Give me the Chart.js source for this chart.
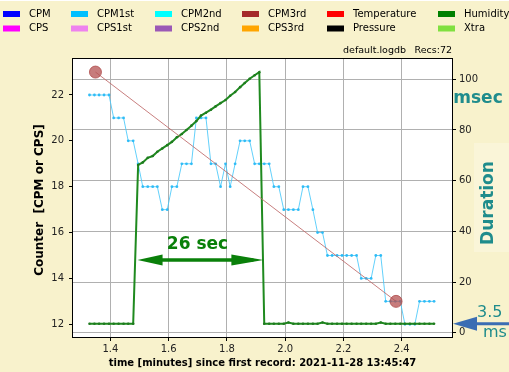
<!DOCTYPE html>
<html>
<head>
<meta charset="utf-8">
<script src="https://cdn.jsdelivr.net/npm/chart.js@4.4.0/dist/chart.umd.min.js"></script>
<style>
  html, body { margin: 0; padding: 0; background: #f8f2cc; }
  canvas { display: block; }
</style>
</head>
<body>
<canvas id="chart" width="509" height="372"></canvas>
<script>
// record times [minutes since first record]
const times = [
  1.328, 1.345, 1.361, 1.378, 1.395, 1.411, 1.428, 1.445, 1.461, 1.478,
  1.495, 1.511, 1.528, 1.545, 1.561, 1.578, 1.595, 1.611, 1.628, 1.645,
  1.661, 1.678, 1.695, 1.711, 1.728, 1.745, 1.761, 1.778, 1.795, 1.811,
  1.828, 1.845, 1.861, 1.878, 1.895, 1.911, 1.928, 1.945, 1.961, 1.978,
  1.995, 2.011, 2.028, 2.045, 2.061, 2.078, 2.095, 2.111, 2.128, 2.145,
  2.161, 2.178, 2.195, 2.211, 2.228, 2.245, 2.261, 2.278, 2.295, 2.311,
  2.328, 2.345, 2.361, 2.378, 2.395, 2.411, 2.428, 2.445, 2.461, 2.478,
  2.495, 2.511
];
// CPM1st counts (left axis)
const cpm1st = [
  22, 22, 22, 22, 22, 21, 21, 21, 20, 20,
  19, 18, 18, 18, 18, 17, 17, 18, 18, 19,
  19, 19, 21, 21, 21, 19, 19, 18, 19, 18,
  19, 20, 20, 20, 19, 19, 19, 19, 18, 18,
  17, 17, 17, 17, 18, 18, 17, 16, 16, 15,
  15, 15, 15, 15, 15, 15, 14, 14, 14, 15,
  15, 13, 13, 13, 13, 12, 12, 12, 13, 13,
  13, 13
];
// Humidity column, used as duration [msec] (right axis)
const duration = [
  3.5, 3.5, 3.5, 3.5, 3.5, 3.5, 3.5, 3.5, 3.5, 3.5,
  66.2, 67.2, 69.0, 69.7, 71.4, 72.7, 74.0, 75.3, 77.1, 78.4,
  80.0, 81.7, 83.5, 85.7, 86.8, 88.0, 89.3, 90.6, 91.8, 93.5,
  95.0, 96.9, 98.5, 100.2, 101.6, 102.8, 3.5, 3.5, 3.5, 3.5,
  3.5, 4.0, 3.5, 3.5, 3.5, 3.5, 3.5, 3.5, 4.0, 3.5,
  3.5, 3.5, 3.5, 3.5, 3.5, 3.5, 3.5, 3.5, 3.5, 3.5,
  4.0, 3.5, 3.5, 3.5, 3.5, 3.5, 3.5, 3.5, 3.5, 3.5,
  3.5, 3.5
];
// fitted trend, two ends
const fitTimes = [1.3485, 2.3805];
const fitValues = [23.0, 13.0];

const xTicks = [1.4, 1.6, 1.8, 2.0, 2.2, 2.4];
const yTicks = [12, 14, 16, 18, 20, 22];
const y1Ticks = [0, 20, 40, 60, 80, 100];

const legendNames = ['CPM', 'CPS', 'CPM1st', 'CPS1st', 'CPM2nd', 'CPS2nd',
  'CPM3rd', 'CPS3rd', 'Temperature', 'Pressure', 'Humidity', 'Xtra'];
const legendColors = ['#0000ff', '#ff00ff', '#00bfff', '#ee82ee', '#00ffff', '#9b59b6',
  '#a52a2a', '#ffa500', '#ff0000', '#000000', '#008000', '#80e040'];

// annotation anchors (data units)
const gapStart = 1.493, gapEnd = 1.925, gapLevel = 14.8;
const gapLabel = '26 sec';
const baseDuration = 3.5;

const BG = '#f8f2cc';
const TEAL = '#1f8c8c';
const F = 'DejaVu Sans';

const toPts = (xs, ys) => xs.map((x, i) => ({ x: x, y: ys[i] }));

function head(ctx, tipX, y, baseX, half) {
  ctx.beginPath();
  ctx.moveTo(tipX, y);
  ctx.lineTo(baseX, y - half);
  ctx.lineTo(baseX, y + half);
  ctx.closePath();
  ctx.fill();
}

const decor = {
  id: 'decor',
  beforeDraw(chart) {
    const { ctx, chartArea: a } = chart;
    ctx.save();
    ctx.fillStyle = BG;
    ctx.fillRect(0, 0, chart.width, chart.height);
    ctx.fillStyle = '#ffffff';
    ctx.fillRect(0, 0, chart.width, 1);
    ctx.fillRect(a.left, a.top, a.right - a.left, a.bottom - a.top);
    ctx.restore();
  },
  afterDatasetsDraw(chart) {
    const { ctx } = chart;
    const x = chart.scales.x, y = chart.scales.y;
    const x0 = x.getPixelForValue(gapStart), x1 = x.getPixelForValue(gapEnd);
    const yy = y.getPixelForValue(gapLevel);
    ctx.save();
    ctx.strokeStyle = '#0a800a';
    ctx.fillStyle = '#0a800a';
    ctx.lineWidth = 3.5;
    ctx.beginPath();
    ctx.moveTo(x0 + 10, yy);
    ctx.lineTo(x1 - 10, yy);
    ctx.stroke();
    head(ctx, x0, yy, x0 + 25, 5.5);
    head(ctx, x1, yy, x1 - 32, 5.5);
    ctx.font = 'bold 17px "' + F + '"';
    ctx.textAlign = 'center';
    ctx.textBaseline = 'middle';
    ctx.fillText(gapLabel, (x0 + x1) / 2 - 3, yy - 16);
    ctx.restore();
  },
  afterDraw(chart) {
    const { ctx, chartArea: a } = chart;
    ctx.save();
    // frame
    ctx.strokeStyle = '#000';
    ctx.lineWidth = 1;
    ctx.strokeRect(a.left - 0.5, a.top - 0.5, a.right - a.left + 1, a.bottom - a.top + 1);

    // legend, column-major like the original
    const colBox = [3, 71, 155, 242, 327, 438];
    const rowY = [14, 28.5];
    ctx.font = '10px "' + F + '"';
    ctx.textBaseline = 'middle';
    ctx.textAlign = 'left';
    legendNames.forEach((name, i) => {
      const c = Math.floor(i / 2), r = i % 2;
      ctx.fillStyle = legendColors[i];
      ctx.fillRect(colBox[c], rowY[r] - 3, 17, 6);
      ctx.fillStyle = '#000';
      ctx.fillText(name, colBox[c] + 26, rowY[r]);
    });

    // file info
    ctx.font = '9.5px "' + F + '"';
    ctx.fillText('default.logdb', 343, 50.5);
    ctx.textAlign = 'right';
    ctx.fillText('Recs:72', 452, 50.5);

    // axis titles
    ctx.fillStyle = '#000';
    ctx.textAlign = 'center';
    ctx.font = 'bold 10px "' + F + '"';
    ctx.fillText('time [minutes] since first record: 2021-11-28 13:45:47', (a.left + a.right) / 2, 363.5);
    ctx.save();
    ctx.translate(40, 200);
    ctx.rotate(-Math.PI / 2);
    ctx.font = 'bold 12px "' + F + '"';
    ctx.fillText('Counter  [CPM or CPS]', 0, 0);
    ctx.restore();

    // right side labels
    ctx.fillStyle = TEAL;
    ctx.font = 'bold 17px "' + F + '"';
    ctx.fillText('msec', 478, 99);
    ctx.fillStyle = '#faf5d8';
    ctx.fillRect(474, 143, 35, 109);
    ctx.fillStyle = TEAL;
    ctx.save();
    ctx.translate(489, 203);
    ctx.rotate(-Math.PI / 2);
    ctx.fillText('Duration', 0, 0);
    ctx.restore();

    // baseline duration marker
    const yb = chart.scales.y1.getPixelForValue(baseDuration);
    ctx.fillStyle = '#3b6db3';
    ctx.strokeStyle = '#3b6db3';
    ctx.lineWidth = 3;
    ctx.beginPath();
    ctx.moveTo(a.right + 15, yb);
    ctx.lineTo(chart.width, yb);
    ctx.stroke();
    head(ctx, a.right + 1, yb, a.right + 25, 7);
    ctx.fillStyle = TEAL;
    ctx.font = '16px "' + F + '"';
    ctx.textAlign = 'left';
    ctx.fillText(baseDuration.toFixed(1), 477, yb - 11);
    ctx.fillText('ms', 483, yb + 9);
    ctx.restore();
  }
};

const tickFont = { family: F, size: 10 };

new Chart(document.getElementById('chart'), {
  type: 'scatter',
  data: {
    datasets: [
      {
        label: 'fit',
        data: toPts(fitTimes, fitValues),
        yAxisID: 'y',
        showLine: true,
        borderColor: 'rgba(190,105,105,0.85)',
        borderWidth: 1,
        pointRadius: 6,
        pointBackgroundColor: 'rgba(180,80,80,0.75)',
        pointBorderColor: 'rgba(175,75,75,0.8)',
        pointBorderWidth: 1,
        order: 0
      },
      {
        label: 'Humidity',
        data: toPts(times, duration),
        yAxisID: 'y1',
        showLine: true,
        borderColor: '#1f8a1f',
        borderWidth: 2,
        pointRadius: 1.3,
        pointBackgroundColor: '#1f7a1f',
        pointBorderWidth: 0,
        order: 1
      },
      {
        label: 'CPM1st',
        data: toPts(times, cpm1st),
        yAxisID: 'y',
        showLine: true,
        borderColor: 'rgba(70,200,250,0.85)',
        borderWidth: 1,
        pointRadius: 1.4,
        pointBackgroundColor: 'rgba(40,185,245,0.95)',
        pointBorderWidth: 0,
        order: 2
      }
    ]
  },
  options: {
    responsive: false,
    animation: false,
    layout: { padding: { top: 59, left: 0, right: 0, bottom: 0 } },
    plugins: { legend: { display: false }, tooltip: { enabled: false } },
    scales: {
      x: {
        type: 'linear',
        min: 1.2714,
        max: 2.5726,
        afterBuildTicks: s => { s.ticks = xTicks.map(v => ({ value: v })); },
        afterFit: s => { s.height = 35; },
        grid: { color: '#b0b0b0', tickColor: '#000', tickLength: 4 },
        border: { display: false },
        ticks: { font: tickFont, color: '#222', padding: 2, autoSkip: false, maxRotation: 0,
          callback: v => v.toFixed(1) }
      },
      y: {
        position: 'left',
        min: 11.446,
        max: 23.57,
        afterBuildTicks: s => { s.ticks = yTicks.map(v => ({ value: v })); },
        afterFit: s => { s.width = 73; },
        grid: { drawOnChartArea: false, tickColor: '#000', tickLength: 4 },
        border: { display: false },
        ticks: { font: tickFont, color: '#222', padding: 5, autoSkip: false,
          callback: v => String(v) }
      },
      y1: {
        position: 'right',
        min: -1.7,
        max: 108,
        afterBuildTicks: s => { s.ticks = y1Ticks.map(v => ({ value: v })); },
        afterFit: s => { s.width = 57; },
        grid: { color: '#b0b0b0', tickColor: '#000', tickLength: 4 },
        border: { display: false },
        ticks: { font: tickFont, color: '#222', padding: 3, autoSkip: false,
          callback: v => String(v) }
      }
    }
  },
  plugins: [decor]
});
</script>
</body>
</html>
